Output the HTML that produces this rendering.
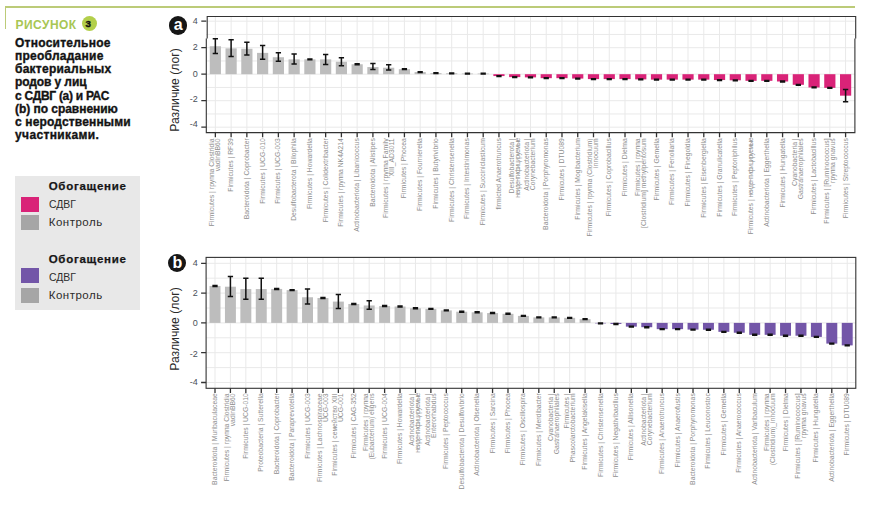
<!DOCTYPE html>
<html><head><meta charset="utf-8"><style>
*{margin:0;padding:0;box-sizing:border-box}
html,body{width:877px;height:514px;overflow:hidden;background:#fff}
body{position:relative;font-family:"Liberation Sans",sans-serif}
.pan{position:absolute;left:0;top:0}
.yt{position:absolute;left:180px;width:17.7px;text-align:right;font-size:9px;line-height:12px;color:#4a4f58}
.xl{position:absolute;width:160px;text-align:right;white-space:pre;font-size:6.8px;line-height:6.4px;color:#8e8e8e;transform:rotate(-90deg);transform-origin:100% 50%}
.nd{letter-spacing:-0.65px}
.yti{position:absolute;left:134px;width:90px;height:16px;line-height:16px;text-align:center;font-size:12.2px;color:#2a2a2a;transform:rotate(-90deg);transform-origin:50% 50%;white-space:nowrap;margin-left:-4px}
.circ{position:absolute;width:18.4px;height:18.4px;border-radius:50%;background:#161616;color:#fff;font-weight:bold;font-size:16px;line-height:17px;text-align:center}
#gl{position:absolute;left:4.6px;top:6px;width:850.6px;height:1.6px;background:#bccb78}
#gv{position:absolute;left:4.6px;top:6px;width:1.5px;height:23.4px;background:#bccb78}
#fig{position:absolute;left:15.5px;top:16.7px;font-size:12px;font-weight:bold;color:#a8c654;line-height:16px;letter-spacing:0.45px}
#n3{position:absolute;left:81.8px;top:15.7px;width:15.1px;height:15.1px;border-radius:50%;background:#b3cf4b;color:#111;font-weight:bold;font-size:9.8px;line-height:16.2px;text-align:center;padding-right:2.4px;-webkit-text-stroke:0.4px #111}
.dl{position:absolute;left:15px;font-size:12px;font-weight:bold;line-height:13.2px;color:#131313;white-space:pre;-webkit-text-stroke:0.35px #131313}
#leg{position:absolute;left:15px;top:176px;width:125px;height:134px;background:#e8e8e8}
.lt{position:absolute;left:48.7px;font-size:11.5px;line-height:13px;color:#2b2b2b;white-space:nowrap;letter-spacing:0.5px}
.lt.c{letter-spacing:0;transform:scaleX(0.905);transform-origin:0 0}
.lt.b{font-weight:bold;color:#161616;letter-spacing:0.72px;-webkit-text-stroke:0.25px #161616}
.sw{position:absolute;left:21.2px;width:17.7px;height:14.6px}
</style></head><body>
<div id="gl"></div><div id="gv"></div>
<div id="fig">РИСУНОК</div><div id="n3">3</div>
<div class="dl" style="top:36.8px;letter-spacing:0.25px">Относительное</div><div class="dl" style="top:50.0px;letter-spacing:0.25px">преобладание</div><div class="dl" style="top:63.2px;letter-spacing:0.25px">бактериальных</div><div class="dl" style="top:76.4px;letter-spacing:-0.1px">родов у лиц</div><div class="dl" style="top:89.6px;letter-spacing:-0.28px">с СДВГ (a) и РАС</div><div class="dl" style="top:102.8px;letter-spacing:-0.04px">(b) по сравнению</div><div class="dl" style="top:116.0px;letter-spacing:0.15px">с неродственными</div><div class="dl" style="top:129.2px;letter-spacing:0.37px">участниками.</div>
<div id="leg"></div>
<div class="lt b" style="top:179.5px">Обогащение</div>
<div class="sw" style="top:197px;background:#d92378"></div><div class="lt c" style="top:197.5px">СДВГ</div>
<div class="sw" style="top:215.1px;background:#a6a6a6"></div><div class="lt" style="top:215.5px">Контроль</div>
<div class="lt b" style="top:253px">Обогащение</div>
<div class="sw" style="top:268.3px;height:14.3px;background:#7356a8"></div><div class="lt c" style="top:270.5px">СДВГ</div>
<div class="sw" style="top:288.1px;background:#a6a6a6"></div><div class="lt" style="top:288.6px">Контроль</div>
<svg class="pan" width="877" height="514" viewBox="0 0 877 514"><g stroke="#e9e9e9" stroke-width="1"><line x1="206.3" x2="854.9" y1="127.2" y2="127.2"/><line x1="206.3" x2="854.9" y1="113.95" y2="113.95"/><line x1="206.3" x2="854.9" y1="100.7" y2="100.7"/><line x1="206.3" x2="854.9" y1="87.45" y2="87.45"/><line x1="206.3" x2="854.9" y1="74.2" y2="74.2"/><line x1="206.3" x2="854.9" y1="60.95" y2="60.95"/><line x1="206.3" x2="854.9" y1="47.7" y2="47.7"/><line x1="206.3" x2="854.9" y1="34.45" y2="34.45"/><line x1="206.3" x2="854.9" y1="21.2" y2="21.2"/><line x1="215.35" x2="215.35" y1="16.5" y2="132.6"/><line x1="231.11" x2="231.11" y1="16.5" y2="132.6"/><line x1="246.86" x2="246.86" y1="16.5" y2="132.6"/><line x1="262.62" x2="262.62" y1="16.5" y2="132.6"/><line x1="278.37" x2="278.37" y1="16.5" y2="132.6"/><line x1="294.13" x2="294.13" y1="16.5" y2="132.6"/><line x1="309.89" x2="309.89" y1="16.5" y2="132.6"/><line x1="325.64" x2="325.64" y1="16.5" y2="132.6"/><line x1="341.4" x2="341.4" y1="16.5" y2="132.6"/><line x1="357.15" x2="357.15" y1="16.5" y2="132.6"/><line x1="372.91" x2="372.91" y1="16.5" y2="132.6"/><line x1="388.67" x2="388.67" y1="16.5" y2="132.6"/><line x1="404.42" x2="404.42" y1="16.5" y2="132.6"/><line x1="420.18" x2="420.18" y1="16.5" y2="132.6"/><line x1="435.93" x2="435.93" y1="16.5" y2="132.6"/><line x1="451.69" x2="451.69" y1="16.5" y2="132.6"/><line x1="467.45" x2="467.45" y1="16.5" y2="132.6"/><line x1="483.2" x2="483.2" y1="16.5" y2="132.6"/><line x1="498.96" x2="498.96" y1="16.5" y2="132.6"/><line x1="514.71" x2="514.71" y1="16.5" y2="132.6"/><line x1="530.47" x2="530.47" y1="16.5" y2="132.6"/><line x1="546.23" x2="546.23" y1="16.5" y2="132.6"/><line x1="561.98" x2="561.98" y1="16.5" y2="132.6"/><line x1="577.74" x2="577.74" y1="16.5" y2="132.6"/><line x1="593.49" x2="593.49" y1="16.5" y2="132.6"/><line x1="609.25" x2="609.25" y1="16.5" y2="132.6"/><line x1="625.01" x2="625.01" y1="16.5" y2="132.6"/><line x1="640.76" x2="640.76" y1="16.5" y2="132.6"/><line x1="656.52" x2="656.52" y1="16.5" y2="132.6"/><line x1="672.27" x2="672.27" y1="16.5" y2="132.6"/><line x1="688.03" x2="688.03" y1="16.5" y2="132.6"/><line x1="703.79" x2="703.79" y1="16.5" y2="132.6"/><line x1="719.54" x2="719.54" y1="16.5" y2="132.6"/><line x1="735.3" x2="735.3" y1="16.5" y2="132.6"/><line x1="751.05" x2="751.05" y1="16.5" y2="132.6"/><line x1="766.81" x2="766.81" y1="16.5" y2="132.6"/><line x1="782.57" x2="782.57" y1="16.5" y2="132.6"/><line x1="798.32" x2="798.32" y1="16.5" y2="132.6"/><line x1="814.08" x2="814.08" y1="16.5" y2="132.6"/><line x1="829.83" x2="829.83" y1="16.5" y2="132.6"/><line x1="845.59" x2="845.59" y1="16.5" y2="132.6"/></g><g><rect x="209.76" y="46.24" width="11.19" height="27.96" fill="#bdbdbd"/><rect x="225.51" y="48.36" width="11.19" height="25.84" fill="#bdbdbd"/><rect x="241.27" y="48.76" width="11.19" height="25.44" fill="#bdbdbd"/><rect x="257.02" y="52.87" width="11.19" height="21.33" fill="#bdbdbd"/><rect x="272.78" y="57.24" width="11.19" height="16.96" fill="#bdbdbd"/><rect x="288.54" y="59.36" width="11.19" height="14.84" fill="#bdbdbd"/><rect x="304.29" y="59.36" width="11.19" height="14.84" fill="#bdbdbd"/><rect x="320.05" y="59.36" width="11.19" height="14.84" fill="#bdbdbd"/><rect x="335.8" y="61.75" width="11.19" height="12.45" fill="#bdbdbd"/><rect x="351.56" y="64.26" width="11.19" height="9.94" fill="#bdbdbd"/><rect x="367.32" y="67.05" width="11.19" height="7.16" fill="#bdbdbd"/><rect x="383.07" y="67.71" width="11.19" height="6.49" fill="#bdbdbd"/><rect x="398.83" y="69.17" width="11.19" height="5.03" fill="#bdbdbd"/><rect x="414.58" y="72.08" width="11.19" height="2.12" fill="#bdbdbd"/><rect x="430.34" y="73.14" width="11.19" height="1.06" fill="#bdbdbd"/><rect x="446.1" y="73.27" width="11.19" height="0.93" fill="#bdbdbd"/><rect x="461.85" y="73.54" width="11.19" height="0.66" fill="#bdbdbd"/><rect x="477.61" y="73.54" width="11.19" height="0.66" fill="#bdbdbd"/><rect x="493.36" y="74.2" width="11.19" height="1.86" fill="#d92378"/><rect x="509.12" y="74.2" width="11.19" height="2.92" fill="#d92378"/><rect x="524.88" y="74.2" width="11.19" height="3.18" fill="#d92378"/><rect x="540.63" y="74.2" width="11.19" height="3.97" fill="#d92378"/><rect x="556.39" y="74.2" width="11.19" height="3.97" fill="#d92378"/><rect x="572.14" y="74.2" width="11.19" height="4.37" fill="#d92378"/><rect x="587.9" y="74.2" width="11.19" height="4.9" fill="#d92378"/><rect x="603.66" y="74.2" width="11.19" height="4.9" fill="#d92378"/><rect x="619.41" y="74.2" width="11.19" height="4.9" fill="#d92378"/><rect x="635.17" y="74.2" width="11.19" height="5.17" fill="#d92378"/><rect x="650.92" y="74.2" width="11.19" height="5.43" fill="#d92378"/><rect x="666.68" y="74.2" width="11.19" height="5.43" fill="#d92378"/><rect x="682.44" y="74.2" width="11.19" height="5.43" fill="#d92378"/><rect x="698.19" y="74.2" width="11.19" height="5.43" fill="#d92378"/><rect x="713.95" y="74.2" width="11.19" height="5.83" fill="#d92378"/><rect x="729.7" y="74.2" width="11.19" height="6.09" fill="#d92378"/><rect x="745.46" y="74.2" width="11.19" height="6.62" fill="#d92378"/><rect x="761.22" y="74.2" width="11.19" height="6.62" fill="#d92378"/><rect x="776.97" y="74.2" width="11.19" height="7.29" fill="#d92378"/><rect x="792.73" y="74.2" width="11.19" height="10.6" fill="#d92378"/><rect x="808.48" y="74.2" width="11.19" height="13.25" fill="#d92378"/><rect x="824.24" y="74.2" width="11.19" height="13.65" fill="#d92378"/><rect x="840" y="74.2" width="11.19" height="21.47" fill="#d92378"/></g><g stroke="#111" stroke-width="1.5" fill="none"><path d="M215.35 38.82V53.53M212.7 38.82H218M212.7 53.53H218"/><path d="M231.11 39.75V56.58M228.46 39.75H233.76M228.46 56.58H233.76"/><path d="M246.86 42.14V54.99M244.21 42.14H249.51M244.21 54.99H249.51"/><path d="M262.62 45.58V59.36M259.97 45.58H265.27M259.97 59.36H265.27"/><path d="M278.37 52.73V61.35M275.72 52.73H281.02M275.72 61.35H281.02"/><path d="M294.13 53.93V64M291.48 53.93H296.78M291.48 64H296.78"/><path d="M309.89 58.96V59.76M307.24 58.96H312.54M307.24 59.76H312.54"/><path d="M325.64 54.46V64.53M322.99 54.46H328.29M322.99 64.53H328.29"/><path d="M341.4 57.64V65.85M338.75 57.64H344.05M338.75 65.85H344.05"/><path d="M357.15 63.87V64.66M354.5 63.87H359.8M354.5 64.66H359.8"/><path d="M372.91 63.47V69.43M370.26 63.47H375.56M370.26 69.43H375.56"/><path d="M388.67 64.66V69.96M386.02 64.66H391.32M386.02 69.96H391.32"/><path d="M404.42 68.77V69.56M401.77 68.77H407.07M401.77 69.56H407.07"/><path d="M420.18 71.68V72.48M417.53 71.68H422.83M417.53 72.48H422.83"/><path d="M435.93 72.74V73.54M433.28 72.74H438.58M433.28 73.54H438.58"/><path d="M451.69 72.88V73.67M449.04 72.88H454.34M449.04 73.67H454.34"/><path d="M467.45 73.14V73.94M464.8 73.14H470.1M464.8 73.94H470.1"/><path d="M483.2 73.14V73.94M480.55 73.14H485.85M480.55 73.94H485.85"/><path d="M498.96 75.66V76.45M496.31 75.66H501.61M496.31 76.45H501.61"/><path d="M514.71 76.72V77.51M512.06 76.72H517.36M512.06 77.51H517.36"/><path d="M530.47 76.98V77.78M527.82 76.98H533.12M527.82 77.78H533.12"/><path d="M546.23 77.78V78.57M543.58 77.78H548.88M543.58 78.57H548.88"/><path d="M561.98 77.78V78.57M559.33 77.78H564.63M559.33 78.57H564.63"/><path d="M577.74 78.17V78.97M575.09 78.17H580.39M575.09 78.97H580.39"/><path d="M593.49 78.7V79.5M590.84 78.7H596.14M590.84 79.5H596.14"/><path d="M609.25 78.7V79.5M606.6 78.7H611.9M606.6 79.5H611.9"/><path d="M625.01 78.7V79.5M622.36 78.7H627.66M622.36 79.5H627.66"/><path d="M640.76 78.97V79.77M638.11 78.97H643.41M638.11 79.77H643.41"/><path d="M656.52 79.23V80.03M653.87 79.23H659.17M653.87 80.03H659.17"/><path d="M672.27 79.23V80.03M669.62 79.23H674.92M669.62 80.03H674.92"/><path d="M688.03 79.23V80.03M685.38 79.23H690.68M685.38 80.03H690.68"/><path d="M703.79 79.23V80.03M701.14 79.23H706.44M701.14 80.03H706.44"/><path d="M719.54 79.63V80.43M716.89 79.63H722.19M716.89 80.43H722.19"/><path d="M735.3 79.9V80.69M732.65 79.9H737.95M732.65 80.69H737.95"/><path d="M751.05 80.43V81.22M748.4 80.43H753.7M748.4 81.22H753.7"/><path d="M766.81 80.43V81.22M764.16 80.43H769.46M764.16 81.22H769.46"/><path d="M782.57 81.09V81.89M779.92 81.09H785.22M779.92 81.89H785.22"/><path d="M798.32 84.4V85.2M795.67 84.4H800.97M795.67 85.2H800.97"/><path d="M814.08 87.05V87.85M811.43 87.05H816.73M811.43 87.85H816.73"/><path d="M829.83 87.45V88.25M827.18 87.45H832.48M827.18 88.25H832.48"/><path d="M845.59 89.44V101.63M842.94 89.44H848.24M842.94 101.63H848.24"/></g><path d="M207.2 38.5V16.5H855.7V38.5M206.3 38.5V132.6H854.9V38.5" fill="none" stroke="#333" stroke-width="1.1"/><path d="M215.35 132.6v4.6M231.11 132.6v4.6M246.86 132.6v4.6M262.62 132.6v4.6M278.37 132.6v4.6M294.13 132.6v4.6M309.89 132.6v4.6M325.64 132.6v4.6M341.4 132.6v4.6M357.15 132.6v4.6M372.91 132.6v4.6M388.67 132.6v4.6M404.42 132.6v4.6M420.18 132.6v4.6M435.93 132.6v4.6M451.69 132.6v4.6M467.45 132.6v4.6M483.2 132.6v4.6M498.96 132.6v4.6M514.71 132.6v4.6M530.47 132.6v4.6M546.23 132.6v4.6M561.98 132.6v4.6M577.74 132.6v4.6M593.49 132.6v4.6M609.25 132.6v4.6M625.01 132.6v4.6M640.76 132.6v4.6M656.52 132.6v4.6M672.27 132.6v4.6M688.03 132.6v4.6M703.79 132.6v4.6M719.54 132.6v4.6M735.3 132.6v4.6M751.05 132.6v4.6M766.81 132.6v4.6M782.57 132.6v4.6M798.32 132.6v4.6M814.08 132.6v4.6M829.83 132.6v4.6M845.59 132.6v4.6M206.3 127.2h-5M206.3 100.7h-5M206.3 74.2h-5M206.3 47.7h-5M206.3 21.2h-5" stroke="#333" stroke-width="1.3" fill="none"/></svg>
<div class="yt" style="top:14.85px">4</div>
<div class="yt" style="top:40.9px">2</div>
<div class="yt" style="top:67.75px">0</div>
<div class="yt" style="top:92.7px">-2</div>
<div class="yt" style="top:118px">-4</div>
<div class="xl" style="left:55.35px;top:132.1px;height:12.8px">Firmicutes | группа Clostridia
vadinBB60</div>
<div class="xl" style="left:71.11px;top:135.3px;height:6.4px">Firmicutes | RF39</div>
<div class="xl" style="left:86.86px;top:135.3px;height:6.4px">Bacteroidota | Coprobacter</div>
<div class="xl" style="left:102.62px;top:135.3px;height:6.4px">Firmicutes | UCG-010</div>
<div class="xl" style="left:118.37px;top:135.3px;height:6.4px">Firmicutes | UCG-003</div>
<div class="xl" style="left:134.13px;top:135.3px;height:6.4px">Desulfobacterota | Bilophila</div>
<div class="xl" style="left:149.89px;top:135.3px;height:6.4px">Firmicutes | Howardella</div>
<div class="xl" style="left:165.64px;top:135.3px;height:6.4px">Firmicutes | Colidextribacter</div>
<div class="xl" style="left:181.4px;top:135.3px;height:6.4px">Firmicutes | группа NK4A214</div>
<div class="xl" style="left:197.15px;top:135.3px;height:6.4px">Actinobacteriota | Libanicoccus</div>
<div class="xl" style="left:212.91px;top:135.3px;height:6.4px">Bacteroidota | Alistipes</div>
<div class="xl" style="left:228.67px;top:132.1px;height:12.8px">Firmicutes | группа Family
XIII_AD3011</div>
<div class="xl" style="left:244.42px;top:135.3px;height:6.4px">Firmicutes | Phocea</div>
<div class="xl" style="left:260.18px;top:135.3px;height:6.4px">Firmicutes | Fournierella</div>
<div class="xl" style="left:275.93px;top:135.3px;height:6.4px">Firmicutes | Butyrivibrio</div>
<div class="xl" style="left:291.69px;top:135.3px;height:6.4px">Firmicutes | Christensenella</div>
<div class="xl" style="left:307.45px;top:135.3px;height:6.4px">Firmicutes | Intestinimonas</div>
<div class="xl" style="left:323.2px;top:135.3px;height:6.4px">Firmicutes | Succiniclasticum</div>
<div class="xl" style="left:338.96px;top:135.3px;height:6.4px">firmicted Anaerotruncus</div>
<div class="xl" style="left:354.71px;top:132.1px;height:12.8px">Desulfobacterota |
<span class="nd">неидентифицируемые</span></div>
<div class="xl" style="left:370.47px;top:132.1px;height:12.8px">Actinobacteriota |
Corynebacterium</div>
<div class="xl" style="left:386.23px;top:135.3px;height:6.4px">Bacteroidota | Porphyromonas</div>
<div class="xl" style="left:401.98px;top:135.3px;height:6.4px">Firmicutes | DTU089</div>
<div class="xl" style="left:417.74px;top:135.3px;height:6.4px">Firmicutes | Mogibacterium</div>
<div class="xl" style="left:433.49px;top:132.1px;height:12.8px">Firmicutes | группа (Clostridium)
innocuum</div>
<div class="xl" style="left:449.25px;top:135.3px;height:6.4px">Firmicutes | Coprobacillus</div>
<div class="xl" style="left:465.01px;top:135.3px;height:6.4px">Firmicutes | Dielma</div>
<div class="xl" style="left:480.76px;top:132.1px;height:12.8px">Firmicutes | группа
[Clostridium] methylpentosum</div>
<div class="xl" style="left:496.52px;top:135.3px;height:6.4px">Firmicutes | Gemella</div>
<div class="xl" style="left:512.27px;top:135.3px;height:6.4px">Firmicutes | Fenollaria</div>
<div class="xl" style="left:528.03px;top:135.3px;height:6.4px">Firmicutes | Finegoldia</div>
<div class="xl" style="left:543.79px;top:135.3px;height:6.4px">Firmicutes | Eisenbergiella</div>
<div class="xl" style="left:559.54px;top:135.3px;height:6.4px">Firmicutes | Granulicatella</div>
<div class="xl" style="left:575.3px;top:135.3px;height:6.4px">Firmicutes | Peptoniphilus</div>
<div class="xl" style="left:591.05px;top:135.3px;height:6.4px">Firmicutes | <span class="nd">неидентифицируемые</span></div>
<div class="xl" style="left:606.81px;top:135.3px;height:6.4px">Actinobacteriota | Eggerthella</div>
<div class="xl" style="left:622.57px;top:135.3px;height:6.4px">Firmicutes | Hungatella</div>
<div class="xl" style="left:638.32px;top:132.1px;height:12.8px">Cyanobacteria |
Gastranaerophilales</div>
<div class="xl" style="left:654.08px;top:135.3px;height:6.4px">Firmicutes | Lactobacillus</div>
<div class="xl" style="left:669.83px;top:132.1px;height:12.8px">Firmicutes | [Ruminococcus]
группа gnavus</div>
<div class="xl" style="left:685.59px;top:135.3px;height:6.4px">Firmicutes | Streptococcus</div>
<div class="yti" style="top:82px">Различие (лог)</div>
<svg class="pan" width="877" height="514" viewBox="0 0 877 514"><g stroke="#e9e9e9" stroke-width="1"><line x1="206.1" x2="855.8" y1="382.5" y2="382.5"/><line x1="206.1" x2="855.8" y1="367.6" y2="367.6"/><line x1="206.1" x2="855.8" y1="352.7" y2="352.7"/><line x1="206.1" x2="855.8" y1="337.8" y2="337.8"/><line x1="206.1" x2="855.8" y1="322.9" y2="322.9"/><line x1="206.1" x2="855.8" y1="308" y2="308"/><line x1="206.1" x2="855.8" y1="293.1" y2="293.1"/><line x1="206.1" x2="855.8" y1="278.2" y2="278.2"/><line x1="206.1" x2="855.8" y1="263.3" y2="263.3"/><line x1="215" x2="215" y1="257.4" y2="388.3"/><line x1="230.42" x2="230.42" y1="257.4" y2="388.3"/><line x1="245.84" x2="245.84" y1="257.4" y2="388.3"/><line x1="261.26" x2="261.26" y1="257.4" y2="388.3"/><line x1="276.68" x2="276.68" y1="257.4" y2="388.3"/><line x1="292.1" x2="292.1" y1="257.4" y2="388.3"/><line x1="307.52" x2="307.52" y1="257.4" y2="388.3"/><line x1="322.94" x2="322.94" y1="257.4" y2="388.3"/><line x1="338.36" x2="338.36" y1="257.4" y2="388.3"/><line x1="353.78" x2="353.78" y1="257.4" y2="388.3"/><line x1="369.2" x2="369.2" y1="257.4" y2="388.3"/><line x1="384.62" x2="384.62" y1="257.4" y2="388.3"/><line x1="400.04" x2="400.04" y1="257.4" y2="388.3"/><line x1="415.46" x2="415.46" y1="257.4" y2="388.3"/><line x1="430.88" x2="430.88" y1="257.4" y2="388.3"/><line x1="446.3" x2="446.3" y1="257.4" y2="388.3"/><line x1="461.72" x2="461.72" y1="257.4" y2="388.3"/><line x1="477.14" x2="477.14" y1="257.4" y2="388.3"/><line x1="492.56" x2="492.56" y1="257.4" y2="388.3"/><line x1="507.98" x2="507.98" y1="257.4" y2="388.3"/><line x1="523.4" x2="523.4" y1="257.4" y2="388.3"/><line x1="538.82" x2="538.82" y1="257.4" y2="388.3"/><line x1="554.24" x2="554.24" y1="257.4" y2="388.3"/><line x1="569.66" x2="569.66" y1="257.4" y2="388.3"/><line x1="585.08" x2="585.08" y1="257.4" y2="388.3"/><line x1="600.5" x2="600.5" y1="257.4" y2="388.3"/><line x1="615.92" x2="615.92" y1="257.4" y2="388.3"/><line x1="631.34" x2="631.34" y1="257.4" y2="388.3"/><line x1="646.76" x2="646.76" y1="257.4" y2="388.3"/><line x1="662.18" x2="662.18" y1="257.4" y2="388.3"/><line x1="677.6" x2="677.6" y1="257.4" y2="388.3"/><line x1="693.02" x2="693.02" y1="257.4" y2="388.3"/><line x1="708.44" x2="708.44" y1="257.4" y2="388.3"/><line x1="723.86" x2="723.86" y1="257.4" y2="388.3"/><line x1="739.28" x2="739.28" y1="257.4" y2="388.3"/><line x1="754.7" x2="754.7" y1="257.4" y2="388.3"/><line x1="770.12" x2="770.12" y1="257.4" y2="388.3"/><line x1="785.54" x2="785.54" y1="257.4" y2="388.3"/><line x1="800.96" x2="800.96" y1="257.4" y2="388.3"/><line x1="816.38" x2="816.38" y1="257.4" y2="388.3"/><line x1="831.8" x2="831.8" y1="257.4" y2="388.3"/><line x1="847.22" x2="847.22" y1="257.4" y2="388.3"/></g><g><rect x="209.53" y="285.95" width="10.95" height="36.95" fill="#bdbdbd"/><rect x="224.95" y="286.69" width="10.95" height="36.21" fill="#bdbdbd"/><rect x="240.37" y="289.08" width="10.95" height="33.82" fill="#bdbdbd"/><rect x="255.79" y="289.08" width="10.95" height="33.82" fill="#bdbdbd"/><rect x="271.21" y="288.93" width="10.95" height="33.97" fill="#bdbdbd"/><rect x="286.63" y="290.12" width="10.95" height="32.78" fill="#bdbdbd"/><rect x="302.05" y="297.27" width="10.95" height="25.63" fill="#bdbdbd"/><rect x="317.47" y="298.02" width="10.95" height="24.88" fill="#bdbdbd"/><rect x="332.89" y="301.59" width="10.95" height="21.31" fill="#bdbdbd"/><rect x="348.31" y="303.98" width="10.95" height="18.92" fill="#bdbdbd"/><rect x="363.73" y="305.47" width="10.95" height="17.43" fill="#bdbdbd"/><rect x="379.15" y="306.06" width="10.95" height="16.84" fill="#bdbdbd"/><rect x="394.57" y="306.51" width="10.95" height="16.39" fill="#bdbdbd"/><rect x="409.99" y="308.3" width="10.95" height="14.6" fill="#bdbdbd"/><rect x="425.41" y="308.89" width="10.95" height="14.01" fill="#bdbdbd"/><rect x="440.83" y="310.38" width="10.95" height="12.52" fill="#bdbdbd"/><rect x="456.25" y="311.72" width="10.95" height="11.18" fill="#bdbdbd"/><rect x="471.67" y="312.32" width="10.95" height="10.58" fill="#bdbdbd"/><rect x="487.09" y="313.07" width="10.95" height="9.83" fill="#bdbdbd"/><rect x="502.51" y="313.81" width="10.95" height="9.09" fill="#bdbdbd"/><rect x="517.93" y="315.9" width="10.95" height="7" fill="#bdbdbd"/><rect x="533.35" y="317.39" width="10.95" height="5.51" fill="#bdbdbd"/><rect x="548.77" y="317.39" width="10.95" height="5.51" fill="#bdbdbd"/><rect x="564.19" y="317.83" width="10.95" height="5.07" fill="#bdbdbd"/><rect x="579.61" y="319.17" width="10.95" height="3.73" fill="#bdbdbd"/><rect x="595.03" y="322.9" width="10.95" height="0.45" fill="#7356a8"/><rect x="610.45" y="322.9" width="10.95" height="1.04" fill="#7356a8"/><rect x="625.87" y="322.9" width="10.95" height="3.73" fill="#7356a8"/><rect x="641.29" y="322.9" width="10.95" height="4.32" fill="#7356a8"/><rect x="656.71" y="322.9" width="10.95" height="6.26" fill="#7356a8"/><rect x="672.13" y="322.9" width="10.95" height="6.26" fill="#7356a8"/><rect x="687.55" y="322.9" width="10.95" height="6.7" fill="#7356a8"/><rect x="702.97" y="322.9" width="10.95" height="6.85" fill="#7356a8"/><rect x="718.39" y="322.9" width="10.95" height="8.94" fill="#7356a8"/><rect x="733.81" y="322.9" width="10.95" height="9.83" fill="#7356a8"/><rect x="749.23" y="322.9" width="10.95" height="11.92" fill="#7356a8"/><rect x="764.65" y="322.9" width="10.95" height="11.92" fill="#7356a8"/><rect x="780.07" y="322.9" width="10.95" height="12.81" fill="#7356a8"/><rect x="795.49" y="322.9" width="10.95" height="12.81" fill="#7356a8"/><rect x="810.91" y="322.9" width="10.95" height="14.01" fill="#7356a8"/><rect x="826.33" y="322.9" width="10.95" height="20.71" fill="#7356a8"/><rect x="841.75" y="322.9" width="10.95" height="22.5" fill="#7356a8"/></g><g stroke="#111" stroke-width="1.5" fill="none"><path d="M215 285.5V286.39M212.35 285.5H217.65M212.35 286.39H217.65"/><path d="M230.42 276.41V296.38M227.77 276.41H233.07M227.77 296.38H233.07"/><path d="M245.84 278.35V299.36M243.19 278.35H248.49M243.19 299.36H248.49"/><path d="M261.26 278.35V299.36M258.61 278.35H263.91M258.61 299.36H263.91"/><path d="M276.68 288.48V289.38M274.03 288.48H279.33M274.03 289.38H279.33"/><path d="M292.1 289.67V290.57M289.45 289.67H294.75M289.45 290.57H294.75"/><path d="M307.52 289.08V303.98M304.87 289.08H310.17M304.87 303.98H310.17"/><path d="M322.94 297.57V298.46M320.29 297.57H325.59M320.29 298.46H325.59"/><path d="M338.36 294.59V308.45M335.71 294.59H341.01M335.71 308.45H341.01"/><path d="M353.78 303.53V304.42M351.13 303.53H356.43M351.13 304.42H356.43"/><path d="M369.2 300.85V309.34M366.55 300.85H371.85M366.55 309.34H371.85"/><path d="M384.62 305.62V306.51M381.97 305.62H387.27M381.97 306.51H387.27"/><path d="M400.04 306.06V306.96M397.39 306.06H402.69M397.39 306.96H402.69"/><path d="M415.46 307.85V308.75M412.81 307.85H418.11M412.81 308.75H418.11"/><path d="M430.88 308.45V309.34M428.23 308.45H433.53M428.23 309.34H433.53"/><path d="M446.3 309.94V310.83M443.65 309.94H448.95M443.65 310.83H448.95"/><path d="M461.72 311.28V312.17M459.07 311.28H464.37M459.07 312.17H464.37"/><path d="M477.14 311.87V312.77M474.49 311.87H479.79M474.49 312.77H479.79"/><path d="M492.56 312.62V313.51M489.91 312.62H495.21M489.91 313.51H495.21"/><path d="M507.98 313.36V314.26M505.33 313.36H510.63M505.33 314.26H510.63"/><path d="M523.4 315.45V316.34M520.75 315.45H526.05M520.75 316.34H526.05"/><path d="M538.82 316.94V317.83M536.17 316.94H541.47M536.17 317.83H541.47"/><path d="M554.24 316.94V317.83M551.59 316.94H556.89M551.59 317.83H556.89"/><path d="M569.66 317.39V318.28M567.01 317.39H572.31M567.01 318.28H572.31"/><path d="M585.08 318.73V319.62M582.43 318.73H587.73M582.43 319.62H587.73"/><path d="M600.5 322.9V323.79M597.85 322.9H603.15M597.85 323.79H603.15"/><path d="M615.92 323.5V324.39M613.27 323.5H618.57M613.27 324.39H618.57"/><path d="M631.34 326.18V327.07M628.69 326.18H633.99M628.69 327.07H633.99"/><path d="M646.76 326.77V327.67M644.11 326.77H649.41M644.11 327.67H649.41"/><path d="M662.18 328.71V329.6M659.53 328.71H664.83M659.53 329.6H664.83"/><path d="M677.6 328.71V329.6M674.95 328.71H680.25M674.95 329.6H680.25"/><path d="M693.02 329.16V330.05M690.37 329.16H695.67M690.37 330.05H695.67"/><path d="M708.44 329.31V330.2M705.79 329.31H711.09M705.79 330.2H711.09"/><path d="M723.86 331.39V332.29M721.21 331.39H726.51M721.21 332.29H726.51"/><path d="M739.28 332.29V333.18M736.63 332.29H741.93M736.63 333.18H741.93"/><path d="M754.7 334.37V335.27M752.05 334.37H757.35M752.05 335.27H757.35"/><path d="M770.12 334.37V335.27M767.47 334.37H772.77M767.47 335.27H772.77"/><path d="M785.54 335.27V336.16M782.89 335.27H788.19M782.89 336.16H788.19"/><path d="M800.96 335.27V336.16M798.31 335.27H803.61M798.31 336.16H803.61"/><path d="M816.38 336.46V337.35M813.73 336.46H819.03M813.73 337.35H819.03"/><path d="M831.8 343.16V344.06M829.15 343.16H834.45M829.15 344.06H834.45"/><path d="M847.22 344.95V345.85M844.57 344.95H849.87M844.57 345.85H849.87"/></g><rect x="206.1" y="257.4" width="649.7" height="130.9" fill="none" stroke="#333" stroke-width="1.1"/><path d="M215 388.3v4.6M230.42 388.3v4.6M245.84 388.3v4.6M261.26 388.3v4.6M276.68 388.3v4.6M292.1 388.3v4.6M307.52 388.3v4.6M322.94 388.3v4.6M338.36 388.3v4.6M353.78 388.3v4.6M369.2 388.3v4.6M384.62 388.3v4.6M400.04 388.3v4.6M415.46 388.3v4.6M430.88 388.3v4.6M446.3 388.3v4.6M461.72 388.3v4.6M477.14 388.3v4.6M492.56 388.3v4.6M507.98 388.3v4.6M523.4 388.3v4.6M538.82 388.3v4.6M554.24 388.3v4.6M569.66 388.3v4.6M585.08 388.3v4.6M600.5 388.3v4.6M615.92 388.3v4.6M631.34 388.3v4.6M646.76 388.3v4.6M662.18 388.3v4.6M677.6 388.3v4.6M693.02 388.3v4.6M708.44 388.3v4.6M723.86 388.3v4.6M739.28 388.3v4.6M754.7 388.3v4.6M770.12 388.3v4.6M785.54 388.3v4.6M800.96 388.3v4.6M816.38 388.3v4.6M831.8 388.3v4.6M847.22 388.3v4.6M206.1 382.5h-5M206.1 352.7h-5M206.1 322.9h-5M206.1 293.1h-5M206.1 263.3h-5" stroke="#333" stroke-width="1.3" fill="none"/></svg>
<div class="yt" style="top:257.1px">4</div>
<div class="yt" style="top:287.4px">2</div>
<div class="yt" style="top:317.4px">0</div>
<div class="yt" style="top:348px">-2</div>
<div class="yt" style="top:376px">-4</div>
<div class="xl" style="left:55px;top:390.4px;height:6.4px">Bacteroidota | Muribaculaceae</div>
<div class="xl" style="left:70.42px;top:387.2px;height:12.8px">Firmicutes | группа Clostridia
vadinBB60</div>
<div class="xl" style="left:85.84px;top:390.4px;height:6.4px">Firmicutes | UCG-010</div>
<div class="xl" style="left:101.26px;top:390.4px;height:6.4px">Proteobacteria | Sutterella</div>
<div class="xl" style="left:116.68px;top:390.4px;height:6.4px">Bacteroidota | Coprobacter</div>
<div class="xl" style="left:132.1px;top:390.4px;height:6.4px">Bacteroidota | Paraprevotella</div>
<div class="xl" style="left:147.52px;top:390.4px;height:6.4px">Firmicutes | UCG-003</div>
<div class="xl" style="left:162.94px;top:387.2px;height:12.8px">Firmicutes | Lachnospiraceae
UCG-003</div>
<div class="xl" style="left:178.36px;top:387.2px;height:12.8px">Firmicutes | семейство XIII
UCG-001</div>
<div class="xl" style="left:193.78px;top:390.4px;height:6.4px">Firmicutes | CAG-352</div>
<div class="xl" style="left:209.2px;top:387.2px;height:12.8px">Firmicutes | группа
(Eubacterium) eligens</div>
<div class="xl" style="left:224.62px;top:390.4px;height:6.4px">Firmicutes | UCG-004</div>
<div class="xl" style="left:240.04px;top:390.4px;height:6.4px">Firmicutes | Howardella</div>
<div class="xl" style="left:255.46px;top:387.2px;height:12.8px">Actinobacteriota |
<span class="nd">неидентифицируемые</span></div>
<div class="xl" style="left:270.88px;top:387.2px;height:12.8px">Actinobacteriota |
Enterorhabdus</div>
<div class="xl" style="left:286.3px;top:390.4px;height:6.4px">Firmicutes | Peptococcus</div>
<div class="xl" style="left:301.72px;top:390.4px;height:6.4px">Desulfobacterota | Desulfovibrio</div>
<div class="xl" style="left:317.14px;top:390.4px;height:6.4px">Actinobacteriota | Olsenella</div>
<div class="xl" style="left:332.56px;top:390.4px;height:6.4px">Firmicutes | Sarcina</div>
<div class="xl" style="left:347.98px;top:390.4px;height:6.4px">Firmicutes | Phocea</div>
<div class="xl" style="left:363.4px;top:390.4px;height:6.4px">Firmicutes | Oscillospira</div>
<div class="xl" style="left:378.82px;top:390.4px;height:6.4px">Firmicutes | Merdibacter</div>
<div class="xl" style="left:394.24px;top:387.2px;height:12.8px">Cyanobacteria |
Gastranaerophilales</div>
<div class="xl" style="left:409.66px;top:387.2px;height:12.8px">Firmicutes |
Phascolarctobacterium</div>
<div class="xl" style="left:425.08px;top:390.4px;height:6.4px">Firmicutes | Angelakisella</div>
<div class="xl" style="left:440.5px;top:390.4px;height:6.4px">Firmicutes | Christensenella</div>
<div class="xl" style="left:455.92px;top:390.4px;height:6.4px">Firmicutes | Negativibacillus</div>
<div class="xl" style="left:471.34px;top:390.4px;height:6.4px">Firmicutes | Allisonella</div>
<div class="xl" style="left:486.76px;top:387.2px;height:12.8px">Actinobacteriota |
Corynebacterium</div>
<div class="xl" style="left:502.18px;top:390.4px;height:6.4px">Firmicutes | Anaerotruncus</div>
<div class="xl" style="left:517.6px;top:390.4px;height:6.4px">Firmicutes | Anaerofustis</div>
<div class="xl" style="left:533.02px;top:390.4px;height:6.4px">Bacteroidota | Porphyromonas</div>
<div class="xl" style="left:548.44px;top:390.4px;height:6.4px">Firmicutes | Leuconostoc</div>
<div class="xl" style="left:563.86px;top:390.4px;height:6.4px">Firmicutes | Gemella</div>
<div class="xl" style="left:579.28px;top:390.4px;height:6.4px">Firmicutes | Anaerococcus</div>
<div class="xl" style="left:594.7px;top:390.4px;height:6.4px">Actinobacteriota | Varibaculum</div>
<div class="xl" style="left:610.12px;top:387.2px;height:12.8px">Firmicutes | группа
(Clostridium)_innocuum</div>
<div class="xl" style="left:625.54px;top:390.4px;height:6.4px">Firmicutes | Dielma</div>
<div class="xl" style="left:640.96px;top:387.2px;height:12.8px">Firmicutes | [Ruminococcus]
группа gnavus</div>
<div class="xl" style="left:656.38px;top:390.4px;height:6.4px">Firmicutes | Hungatella</div>
<div class="xl" style="left:671.8px;top:390.4px;height:6.4px">Actinobacteriota | Eggerthella</div>
<div class="xl" style="left:687.22px;top:390.4px;height:6.4px">Firmicutes | DTU089</div>
<div class="yti" style="top:321px">Различие (лог)</div>
<div class="circ" style="left:168.9px;top:16.4px">a</div>
<div class="circ" style="left:168.1px;top:253.9px">b</div>
</body></html>
